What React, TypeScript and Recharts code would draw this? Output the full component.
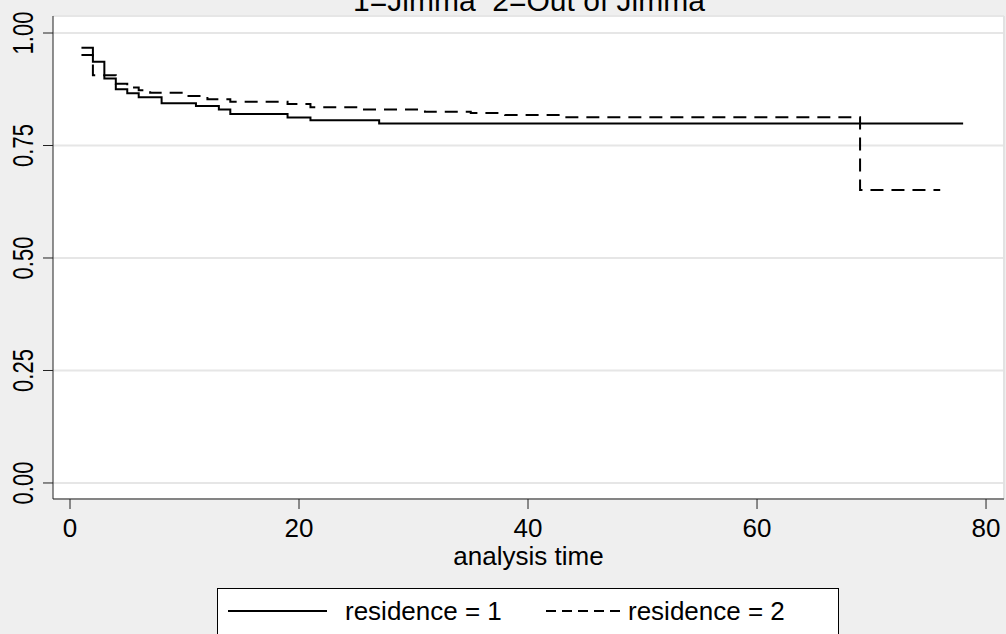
import React from 'react';
import { LineChart, Line, XAxis, YAxis, CartesianGrid, ReferenceLine } from 'recharts';

// Kaplan-Meier steps
const res1Times = [1, 2, 3, 4, 5, 6, 8, 11, 13, 14, 19, 21, 27, 78];
const res1Surv = [0.967, 0.936, 0.899, 0.875, 0.866, 0.857, 0.844, 0.838, 0.83, 0.82, 0.812, 0.806, 0.799, 0.799];
const res2Times = [1, 2, 4, 5, 6, 7, 10, 12, 14, 19, 21, 25, 31, 35, 38, 43, 69, 76];
const res2Surv = [0.951, 0.906, 0.887, 0.879, 0.873, 0.867, 0.86, 0.853, 0.847, 0.842, 0.835, 0.83, 0.825, 0.822, 0.818, 0.813, 0.651, 0.651];

const xTicks = [0, 20, 40, 60, 80];
const yTicks = [0, 0.25, 0.5, 0.75, 1];
const seriesNames = ['residence = 1', 'residence = 2'];
const title = '1=Jimma  2=Out of Jimma';

const res1 = res1Times.map((t, i) => ({ t, s: res1Surv[i] }));
const res2 = res2Times.map((t, i) => ({ t, s: res2Surv[i] }));

const FONT = 'Arial, "Liberation Sans", sans-serif';

const XTick = (props: any) => {
  const { x, y, payload } = props;
  return (
    <text x={x} y={y + 26} textAnchor="middle" fontSize={26} fontFamily={FONT} fill="#000">
      {payload.value}
    </text>
  );
};

const YTick = (props: any) => {
  const { y, payload } = props;
  return (
    <text
      transform={`translate(33,${y}) rotate(-90) scale(1,1.35)`}
      textAnchor="middle"
      fontSize={22}
      fontFamily={FONT}
      fill="#000"
    >
      {Number(payload.value).toFixed(2)}
    </text>
  );
};

export default function App() {
  return (
    <div style={{ position: 'fixed', left: 0, top: 0, width: 1006, height: 634, overflow: 'hidden', background: '#efefef' }}>
      <LineChart width={1006} height={634} margin={{ top: 16, right: 2, bottom: 0, left: 0 }}>
        <CartesianGrid vertical={false} stroke="#e6e6e6" strokeWidth={2} fill="#fff" />
        <XAxis
          type="number"
          dataKey="t"
          domain={[-1.485, 81.57]}
          ticks={xTicks}
          allowDataOverflow
          height={135}
          tickSize={10}
          stroke="#222"
          tick={<XTick />}
          label={{ value: 'analysis time', position: 'insideBottom', offset: 69, fontSize: 26, fontFamily: FONT, fill: '#000' }}
        />
        <YAxis
          type="number"
          domain={[-0.0356, 1.0378]}
          ticks={yTicks}
          allowDataOverflow
          width={53}
          tickSize={10}
          stroke="#222"
          tick={<YTick />}
        />
        <ReferenceLine x={81.57} stroke="#e2e2e2" strokeWidth={2} />
        <Line data={res1} dataKey="s" type="stepAfter" stroke="#000" strokeWidth={2} dot={false} isAnimationActive={false} />
        <Line data={res2} dataKey="s" type="stepAfter" stroke="#000" strokeWidth={2} strokeDasharray="13 8" dot={false} isAnimationActive={false} />
      </LineChart>
      <svg width={1006} height={634} style={{ position: 'absolute', left: 0, top: 0, pointerEvents: 'none' }}>
        <text x={529} y={11} textAnchor="middle" fontSize={30} fontFamily={FONT} fill="#000" style={{ whiteSpace: 'pre' }}>
          {title}
        </text>
        <rect x={217.5} y={588.5} width={621} height={60} fill="#fff" stroke="#000" strokeWidth={1} />
        <line x1={228} y1={611} x2={327} y2={611} stroke="#000" strokeWidth={2} />
        <text x={345} y={620} fontSize={26} fontFamily={FONT} fill="#000">{seriesNames[0]}</text>
        <line x1={546} y1={611} x2={621} y2={611} stroke="#000" strokeWidth={2} strokeDasharray="10 6" />
        <text x={628} y={620} fontSize={26} fontFamily={FONT} fill="#000">{seriesNames[1]}</text>
      </svg>
    </div>
  );
}
